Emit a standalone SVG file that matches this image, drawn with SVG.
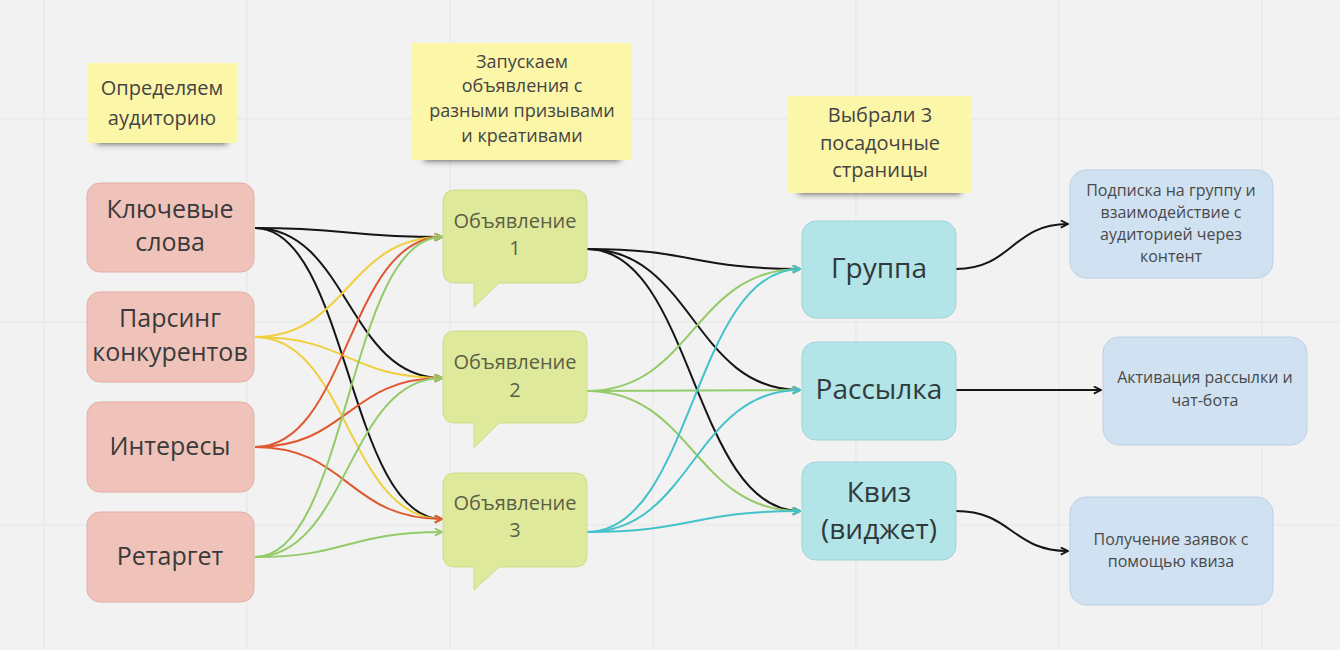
<svg xmlns="http://www.w3.org/2000/svg" width="1340" height="650" viewBox="0 0 1340 650">
<style>
  text { font-family: "Open Sans", "Noto Sans", "DejaVu Sans", sans-serif; text-anchor: middle; }
  .grid { stroke: #e5e5e5; stroke-width: 1; }
  .sticky { fill: #fcf6a9; }
  .shadow { fill: #333; opacity: 0.75; filter: url(#blur); }
  .sticky-t { font-size: 19px; fill: #444; }
  .s20 { font-size: 20px; }
  .s18 { font-size: 18px; }
  .src { fill: #f0c3ba; stroke: #e2ada4; stroke-width: 1; }
  .src-t { font-size: 25px; fill: #3a3a3a; }
  .ad { fill: #dfe99c; stroke: #cfdc8a; stroke-width: 1; }
  .ad-t { font-size: 20px; fill: #5a5f45; }
  .land { fill: #b3e4e7; stroke: #9fd3d7; stroke-width: 1; }
  .land-t { font-size: 28px; fill: #2f3a3b; }
  .res { fill: #d0e1f2; stroke: #bdd0e4; stroke-width: 1; }
  .res-t { font-size: 16px; fill: #4a4a4a; }
  .c { fill: none; stroke-width: 2; }
  .k { stroke: #151515; marker-end: url(#mk-k); }
  .y { stroke: #f0cf3c; marker-end: url(#mk-y); }
  .r { stroke: #e05833; marker-end: url(#mk-r); }
  .g { stroke: #93cb68; marker-end: url(#mk-g); }
  .t { stroke: #44c2cb; marker-end: url(#mk-t); }
</style>
<defs>
  <filter id="blur" x="-20%" y="-100%" width="140%" height="300%">
    <feGaussianBlur stdDeviation="3"/>
  </filter>
  <marker id="mk-k" viewBox="0 0 10 10" refX="9" refY="5" markerWidth="9" markerHeight="9" markerUnits="userSpaceOnUse" orient="auto"><path d="M1,1 L9,5 L1,9" fill="none" stroke="#151515" stroke-width="2"/></marker>
  <marker id="mk-y" viewBox="0 0 10 10" refX="9" refY="5" markerWidth="9" markerHeight="9" markerUnits="userSpaceOnUse" orient="auto"><path d="M1,1 L9,5 L1,9" fill="none" stroke="#f0cf3c" stroke-width="2"/></marker>
  <marker id="mk-r" viewBox="0 0 10 10" refX="9" refY="5" markerWidth="9" markerHeight="9" markerUnits="userSpaceOnUse" orient="auto"><path d="M1,1 L9,5 L1,9" fill="none" stroke="#e05833" stroke-width="2"/></marker>
  <marker id="mk-g" viewBox="0 0 10 10" refX="9" refY="5" markerWidth="9" markerHeight="9" markerUnits="userSpaceOnUse" orient="auto"><path d="M1,1 L9,5 L1,9" fill="none" stroke="#93cb68" stroke-width="2"/></marker>
  <marker id="mk-t" viewBox="0 0 10 10" refX="9" refY="5" markerWidth="9" markerHeight="9" markerUnits="userSpaceOnUse" orient="auto"><path d="M1,1 L9,5 L1,9" fill="none" stroke="#44c2cb" stroke-width="2"/></marker>
</defs>

<rect x="0" y="0" width="1340" height="650" fill="#f2f2f2"/>
<g id="grid">
  <line class="grid" x1="44" y1="0" x2="44" y2="650"/>
  <line class="grid" x1="247" y1="0" x2="247" y2="650"/>
  <line class="grid" x1="450" y1="0" x2="450" y2="650"/>
  <line class="grid" x1="653" y1="0" x2="653" y2="650"/>
  <line class="grid" x1="856" y1="0" x2="856" y2="650"/>
  <line class="grid" x1="1059" y1="0" x2="1059" y2="650"/>
  <line class="grid" x1="1262" y1="0" x2="1262" y2="650"/>
  <line class="grid" x1="0" y1="119" x2="1340" y2="119"/>
  <line class="grid" x1="0" y1="322" x2="1340" y2="322"/>
  <line class="grid" x1="0" y1="525" x2="1340" y2="525"/>
</g>

<g id="note-audience">
  <rect class="shadow" x="97" y="134" width="130" height="10"/>
  <rect class="sticky" x="87" y="63" width="150" height="80"/>
  <text class="sticky-t s20" x="162" y="95">Определяем</text>
  <text class="sticky-t s20" x="162" y="125">аудиторию</text>
</g>
<g id="note-ads">
  <rect class="shadow" x="424" y="151" width="196" height="10"/>
  <rect class="sticky" x="412" y="43" width="220" height="117"/>
  <text class="sticky-t s18" x="522" y="68">Запускаем</text>
  <text class="sticky-t s18" x="522" y="92">объявления с</text>
  <text class="sticky-t s18" x="522" y="117">разными призывами</text>
  <text class="sticky-t s18" x="522" y="142">и креативами</text>
</g>
<g id="note-landing">
  <rect class="shadow" x="798" y="184" width="163" height="10"/>
  <rect class="sticky" x="788" y="96" width="183" height="97"/>
  <text class="sticky-t s20" x="880" y="122">Выбрали 3</text>
  <text class="sticky-t s20" x="880" y="150">посадочные</text>
  <text class="sticky-t s20" x="880" y="177">страницы</text>
</g>

<g id="connectors">
  <path class="c k" d="M255,228 C348,228 348,237 442,237"/>
  <path class="c k" d="M255,228 C348,228 348,378 442,378"/>
  <path class="c k" d="M255,228 C348,228 348,519 442,519"/>
  <path class="c y" d="M255,337 C348,337 348,237 442,237"/>
  <path class="c y" d="M255,337 C348,337 348,378 442,378"/>
  <path class="c y" d="M255,337 C348,337 348,519 442,519"/>
  <path class="c r" d="M255,447 C348,447 348,237 442,237"/>
  <path class="c r" d="M255,447 C348,447 348,378 442,378"/>
  <path class="c r" d="M255,447 C348,447 348,519 442,519"/>
  <path class="c g" d="M255,557 C348,557 348,237 442,237"/>
  <path class="c g" d="M255,557 C348,557 348,378 442,378"/>
  <path class="c g" d="M255,557 C348,557 348,532 442,532"/>

  <path class="c k" d="M587,249 C693,249 693,269 800,269"/>
  <path class="c k" d="M587,249 C693,249 693,390 800,390"/>
  <path class="c k" d="M587,249 C693,249 693,511 800,511"/>
  <path class="c g" d="M587,391 C693,391 693,269 800,269"/>
  <path class="c g" d="M587,391 C693,391 693,390 800,390"/>
  <path class="c g" d="M587,391 C693,391 693,511 800,511"/>
  <path class="c t" d="M587,532 C693,532 693,269 800,269"/>
  <path class="c t" d="M587,532 C693,532 693,390 800,390"/>
  <path class="c t" d="M587,532 C693,532 693,511 800,511"/>

  <path class="c k" d="M956,269 C1012,269 1012,224 1068,224"/>
  <path class="c k" d="M956,390 L1101,390"/>
  <path class="c k" d="M956,511 C1012,511 1012,551 1068,551"/>
</g>

<g id="src-keywords">
  <rect class="src" x="87" y="183" width="167" height="89" rx="13"/>
  <text class="src-t" x="170" y="218">Ключевые</text>
  <text class="src-t" x="170" y="251">слова</text>
</g>
<g id="src-parsing">
  <rect class="src" x="87" y="292" width="167" height="90" rx="13"/>
  <text class="src-t" x="170" y="327">Парсинг</text>
  <text class="src-t" x="170" y="361">конкурентов</text>
</g>
<g id="src-interests">
  <rect class="src" x="87" y="402" width="167" height="90" rx="13"/>
  <text class="src-t" x="170" y="455">Интересы</text>
</g>
<g id="src-retarget">
  <rect class="src" x="87" y="512" width="167" height="90" rx="13"/>
  <text class="src-t" x="170" y="565">Ретаргет</text>
</g>

<g id="ad-1">
  <path class="ad" d="M455,190 H575 Q587,190 587,202 V271 Q587,283 575,283 H499 L474,307 L474,283 H455 Q443,283 443,271 V202 Q443,190 455,190 Z"/>
  <text class="ad-t" x="515" y="228">Объявление</text>
  <text class="ad-t" x="515" y="255">1</text>
</g>
<g id="ad-2">
  <path class="ad" d="M455,331 H575 Q587,331 587,343 V411 Q587,423 575,423 H499 L474,448 L474,423 H455 Q443,423 443,411 V343 Q443,331 455,331 Z"/>
  <text class="ad-t" x="515" y="369">Объявление</text>
  <text class="ad-t" x="515" y="397">2</text>
</g>
<g id="ad-3">
  <path class="ad" d="M455,473 H575 Q587,473 587,485 V555 Q587,567 575,567 H499 L474,590 L474,567 H455 Q443,567 443,555 V485 Q443,473 455,473 Z"/>
  <text class="ad-t" x="515" y="510">Объявление</text>
  <text class="ad-t" x="515" y="537">3</text>
</g>

<g id="land-group">
  <rect class="land" x="802" y="221" width="154" height="97" rx="14"/>
  <text class="land-t" x="879" y="278">Группа</text>
</g>
<g id="land-mailing">
  <rect class="land" x="802" y="342" width="154" height="98" rx="14"/>
  <text class="land-t" x="879" y="399">Рассылка</text>
</g>
<g id="land-quiz">
  <rect class="land" x="802" y="462" width="154" height="98" rx="14"/>
  <text class="land-t" x="879" y="502">Квиз</text>
  <text class="land-t" x="879" y="539">(виджет)</text>
</g>

<g id="res-subscribe">
  <rect class="res" x="1070" y="170" width="203" height="108" rx="16"/>
  <text class="res-t" x="1171" y="196">Подписка на группу и</text>
  <text class="res-t" x="1171" y="218">взаимодействие с</text>
  <text class="res-t" x="1171" y="240">аудиторией через</text>
  <text class="res-t" x="1171" y="262">контент</text>
</g>
<g id="res-activation">
  <rect class="res" x="1103" y="337" width="204" height="108" rx="16"/>
  <text class="res-t" x="1205" y="383">Активация рассылки и</text>
  <text class="res-t" x="1205" y="406">чат-бота</text>
</g>
<g id="res-leads">
  <rect class="res" x="1070" y="497" width="203" height="108" rx="16"/>
  <text class="res-t" x="1171" y="545">Получение заявок с</text>
  <text class="res-t" x="1171" y="567">помощью квиза</text>
</g>
</svg>
